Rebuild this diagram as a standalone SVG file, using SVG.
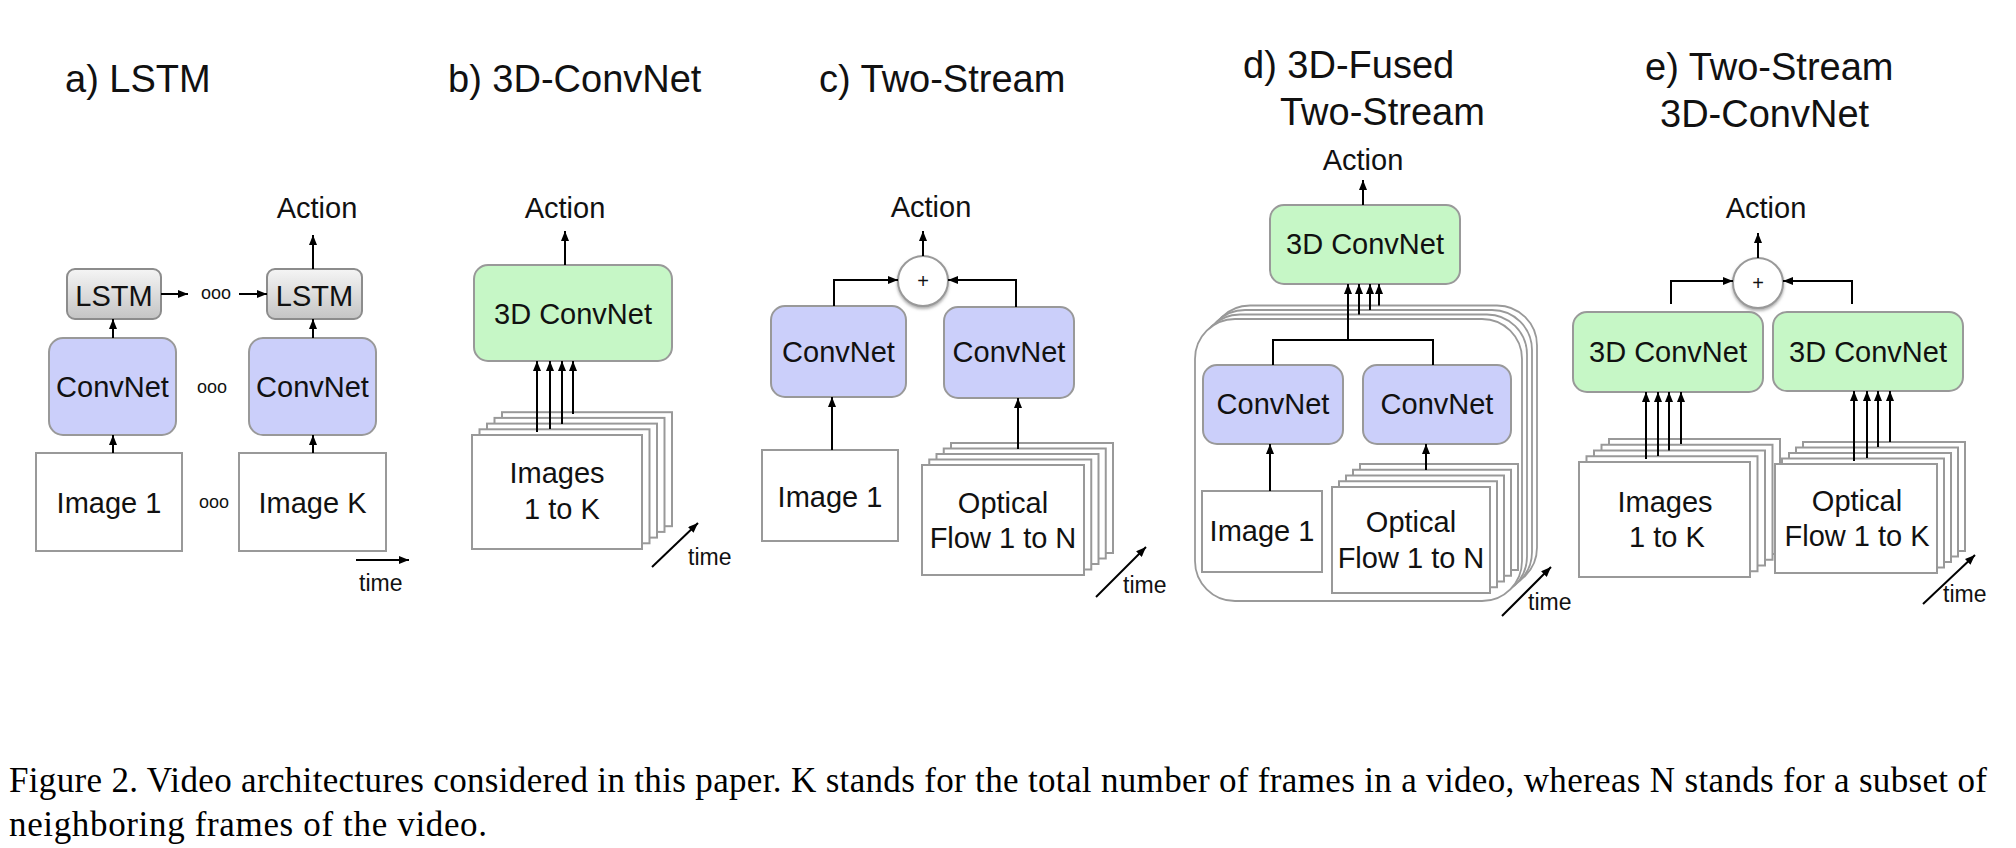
<svg xmlns="http://www.w3.org/2000/svg" width="2016" height="848" viewBox="0 0 2016 848">
<defs>
<linearGradient id="lstmGrad" x1="0" y1="0" x2="0" y2="1">
<stop offset="0" stop-color="#f5f5f5"/>
<stop offset="1" stop-color="#c4c4c4"/>
</linearGradient>
<filter id="shadow" x="-30%" y="-30%" width="160%" height="170%">
<feDropShadow dx="0" dy="2" stdDeviation="1.5" flood-color="#777" flood-opacity="0.6"/>
</filter>
<marker id="arr" markerUnits="userSpaceOnUse" markerWidth="10" markerHeight="8" refX="10" refY="4" orient="auto">
<path d="M0,0 L10,4 L0,8 z" fill="#000"/>
</marker>
</defs>
<style>
.t{font-family:"Liberation Sans",Arial,Helvetica,sans-serif;fill:#111;}
.title{font-size:38px;}
.lbl{font-size:29px;}
.tm{font-size:23px;}
.dots{font-size:18px;}
.plus{font-size:20px;}
.cap{font-family:"Liberation Serif","Times New Roman",serif;font-size:35px;fill:#000;}
.conv{fill:#cbcffa;stroke:#999;stroke-width:2;}
.green{fill:#c6f7c6;stroke:#999;stroke-width:2;}
.lstm{fill:url(#lstmGrad);stroke:#8c8c8c;stroke-width:2;}
.img{fill:#fff;stroke:#999;stroke-width:2;}
.cont{fill:#fff;stroke:#999;stroke-width:1.8;}
.circ{fill:#fff;stroke:#999;stroke-width:2;filter:url(#shadow);}
.ln{fill:none;stroke:#000;stroke-width:2;}
.ar{fill:none;stroke:#000;stroke-width:2;marker-end:url(#arr);}
</style>
<rect x="0" y="0" width="2016" height="848" fill="#fff"/>

<!-- Titles -->
<g id="titles">
<text class="t title" x="65" y="92">a) LSTM</text>
<text class="t title" x="448" y="92">b) 3D-ConvNet</text>
<text class="t title" x="819" y="92">c) Two-Stream</text>
<text class="t title" x="1243" y="78">d) 3D-Fused</text>
<text class="t title" x="1280" y="125">Two-Stream</text>
<text class="t title" x="1645" y="80">e) Two-Stream</text>
<text class="t title" x="1660" y="127">3D-ConvNet</text>
</g>

<!-- Panel a -->
<g id="a-action"><text class="t lbl" x="317" y="218" text-anchor="middle">Action</text></g>
<g id="a-lstm1"><rect class="lstm" x="67" y="269" width="94" height="50" rx="8"/><text class="t lbl" x="114" y="306" text-anchor="middle">LSTM</text></g>
<g id="a-lstm2"><rect class="lstm" x="267" y="269" width="95" height="50" rx="8"/><text class="t lbl" x="314.5" y="306" text-anchor="middle">LSTM</text></g>
<g id="a-conv1"><rect class="conv" x="49" y="338" width="127" height="97" rx="14"/><text class="t lbl" x="112.5" y="397" text-anchor="middle">ConvNet</text></g>
<g id="a-conv2"><rect class="conv" x="249" y="338" width="127" height="97" rx="14"/><text class="t lbl" x="312.5" y="397" text-anchor="middle">ConvNet</text></g>
<g id="a-img1"><rect class="img" x="36" y="453" width="146" height="98"/><text class="t lbl" x="109" y="513" text-anchor="middle">Image 1</text></g>
<g id="a-imgK"><rect class="img" x="239" y="453" width="147" height="98"/><text class="t lbl" x="312.5" y="513" text-anchor="middle">Image K</text></g>
<g id="a-dots">
<text class="t dots" x="216" y="299" text-anchor="middle">ooo</text>
<text class="t dots" x="212" y="393" text-anchor="middle">ooo</text>
<text class="t dots" x="214" y="508" text-anchor="middle">ooo</text>
</g>
<g id="a-time"><text class="t tm" x="359" y="591">time</text></g>

<!-- Panel b -->
<g id="b-action"><text class="t lbl" x="565" y="218" text-anchor="middle">Action</text></g>
<g id="b-3d"><rect class="green" x="474" y="265" width="198" height="96" rx="14"/><text class="t lbl" x="573" y="324" text-anchor="middle">3D ConvNet</text></g>
<g id="b-images">
<rect class="img" x="502" y="412.2" width="170" height="114"/>
<rect class="img" x="494.5" y="417.9" width="170" height="114"/>
<rect class="img" x="487" y="423.6" width="170" height="114"/>
<rect class="img" x="479.5" y="429.3" width="170" height="114"/>
<rect class="img" x="472" y="435" width="170" height="114"/>
<text class="t lbl" x="557" y="483" text-anchor="middle">Images</text>
<text class="t lbl" x="562" y="519" text-anchor="middle">1 to K</text>
</g>
<g id="b-time"><text class="t tm" x="688" y="565">time</text></g>

<!-- Panel c -->
<g id="c-action"><text class="t lbl" x="931" y="217" text-anchor="middle">Action</text></g>
<g id="c-sum"><circle class="circ" cx="923" cy="281" r="25"/><text class="t plus" x="923" y="288" text-anchor="middle">+</text></g>
<g id="c-conv1"><rect class="conv" x="771" y="306" width="135" height="91" rx="14"/><text class="t lbl" x="838.5" y="362" text-anchor="middle">ConvNet</text></g>
<g id="c-conv2"><rect class="conv" x="944" y="307" width="130" height="91" rx="14"/><text class="t lbl" x="1009" y="362" text-anchor="middle">ConvNet</text></g>
<g id="c-img1"><rect class="img" x="762" y="450" width="136" height="91"/><text class="t lbl" x="830" y="507" text-anchor="middle">Image 1</text></g>
<g id="c-flow">
<rect class="img" x="951" y="443" width="162" height="110"/>
<rect class="img" x="943.75" y="448.5" width="162" height="110"/>
<rect class="img" x="936.5" y="454" width="162" height="110"/>
<rect class="img" x="929.25" y="459.5" width="162" height="110"/>
<rect class="img" x="922" y="465" width="162" height="110"/>
<text class="t lbl" x="1003" y="513" text-anchor="middle">Optical</text>
<text class="t lbl" x="1003" y="548" text-anchor="middle">Flow 1 to N</text>
</g>
<g id="c-time"><text class="t tm" x="1123" y="593">time</text></g>

<!-- Panel d -->
<g id="d-action"><text class="t lbl" x="1363" y="170" text-anchor="middle">Action</text></g>
<g id="d-3d"><rect class="green" x="1270" y="205" width="190" height="79" rx="14"/><text class="t lbl" x="1365" y="254" text-anchor="middle">3D ConvNet</text></g>
<g id="d-container">
<rect class="cont" x="1210" y="305.5" width="327" height="282" rx="40"/>
<rect class="cont" x="1205" y="310" width="327" height="282" rx="40"/>
<rect class="cont" x="1200" y="314.5" width="327" height="282" rx="40"/>
<rect class="cont" x="1195" y="319" width="327" height="282" rx="40"/>
</g>
<g id="d-conv1"><rect class="conv" x="1203" y="365" width="140" height="79" rx="14"/><text class="t lbl" x="1273" y="414" text-anchor="middle">ConvNet</text></g>
<g id="d-conv2"><rect class="conv" x="1363" y="365" width="148" height="79" rx="14"/><text class="t lbl" x="1437" y="414" text-anchor="middle">ConvNet</text></g>
<g id="d-img1"><rect class="img" x="1202" y="491" width="120" height="81"/><text class="t lbl" x="1262" y="541" text-anchor="middle">Image 1</text></g>
<g id="d-flow">
<rect class="img" x="1360" y="464" width="158" height="106"/>
<rect class="img" x="1353" y="469.75" width="158" height="106"/>
<rect class="img" x="1346" y="475.5" width="158" height="106"/>
<rect class="img" x="1339" y="481.25" width="158" height="106"/>
<rect class="img" x="1332" y="487" width="158" height="106"/>
<text class="t lbl" x="1411" y="532" text-anchor="middle">Optical</text>
<text class="t lbl" x="1411" y="568" text-anchor="middle">Flow 1 to N</text>
</g>
<g id="d-time"><text class="t tm" x="1528" y="610">time</text></g>

<!-- Panel e -->
<g id="e-action"><text class="t lbl" x="1766" y="218" text-anchor="middle">Action</text></g>
<g id="e-sum"><circle class="circ" cx="1758" cy="283" r="25"/><text class="t plus" x="1758" y="290" text-anchor="middle">+</text></g>
<g id="e-3d1"><rect class="green" x="1573" y="312" width="190" height="80" rx="14"/><text class="t lbl" x="1668" y="362" text-anchor="middle">3D ConvNet</text></g>
<g id="e-3d2"><rect class="green" x="1773" y="312" width="190" height="79" rx="14"/><text class="t lbl" x="1868" y="362" text-anchor="middle">3D ConvNet</text></g>
<g id="e-images">
<rect class="img" x="1609" y="439" width="171" height="115"/>
<rect class="img" x="1601.5" y="444.75" width="171" height="115"/>
<rect class="img" x="1594" y="450.5" width="171" height="115"/>
<rect class="img" x="1586.5" y="456.25" width="171" height="115"/>
<rect class="img" x="1579" y="462" width="171" height="115"/>
<text class="t lbl" x="1665" y="512" text-anchor="middle">Images</text>
<text class="t lbl" x="1667" y="547" text-anchor="middle">1 to K</text>
</g>
<g id="e-flow">
<rect class="img" x="1803" y="442" width="162" height="109"/>
<rect class="img" x="1796" y="447.5" width="162" height="109"/>
<rect class="img" x="1789" y="453" width="162" height="109"/>
<rect class="img" x="1782" y="458.5" width="162" height="109"/>
<rect class="img" x="1775" y="464" width="162" height="109"/>
<text class="t lbl" x="1857" y="511" text-anchor="middle">Optical</text>
<text class="t lbl" x="1857" y="546" text-anchor="middle">Flow 1 to K</text>
</g>
<g id="e-time"><text class="t tm" x="1943" y="602">time</text></g>

<!-- Connectors -->
<g id="connectors">
<line class="ar" x1="113" y1="338" x2="113" y2="319"/>
<line class="ar" x1="113" y1="453" x2="113" y2="435"/>
<line class="ar" x1="313" y1="338" x2="313" y2="319"/>
<line class="ar" x1="313" y1="453" x2="313" y2="435"/>
<line class="ar" x1="161" y1="294" x2="188" y2="294"/>
<line class="ar" x1="239" y1="294" x2="267" y2="294"/>
<line class="ar" x1="313" y1="269" x2="313" y2="235"/>
<line class="ar" x1="356" y1="560" x2="409" y2="560"/>
<line class="ar" x1="565" y1="265" x2="565" y2="231"/>
<line class="ar" x1="537" y1="432" x2="537" y2="361"/>
<line class="ar" x1="550" y1="429" x2="550" y2="361"/>
<line class="ar" x1="562" y1="424" x2="562" y2="361"/>
<line class="ar" x1="573" y1="414" x2="573" y2="361"/>
<line class="ar" x1="652" y1="567" x2="698" y2="523"/>
<line class="ar" x1="923" y1="256" x2="923" y2="231"/>
<path class="ar" d="M834 306 V280 H898"/>
<path class="ar" d="M1016 307 V280 H948"/>
<line class="ar" x1="832" y1="450" x2="832" y2="397"/>
<line class="ar" x1="1018" y1="449" x2="1018" y2="398"/>
<line class="ar" x1="1096" y1="597" x2="1146" y2="547"/>
<line class="ar" x1="1363" y1="205" x2="1363" y2="180"/>
<path class="ln" d="M1273 365 V340 H1433 V365"/>
<line class="ar" x1="1348" y1="340" x2="1348" y2="284"/>
<line class="ar" x1="1359" y1="314.5" x2="1359" y2="284"/>
<line class="ar" x1="1370" y1="310" x2="1370" y2="284"/>
<line class="ar" x1="1379" y1="305.5" x2="1379" y2="284"/>
<line class="ar" x1="1270" y1="491" x2="1270" y2="444"/>
<line class="ar" x1="1426" y1="470" x2="1426" y2="444"/>
<line class="ar" x1="1502" y1="616" x2="1551" y2="567"/>
<line class="ar" x1="1758" y1="258" x2="1758" y2="233"/>
<path class="ar" d="M1671 304 V281 H1733"/>
<path class="ar" d="M1852 304 V281 H1783"/>
<line class="ar" x1="1646" y1="459" x2="1646" y2="392"/>
<line class="ar" x1="1658" y1="456" x2="1658" y2="392"/>
<line class="ar" x1="1669" y1="450.5" x2="1669" y2="392"/>
<line class="ar" x1="1681" y1="444" x2="1681" y2="392"/>
<line class="ar" x1="1854" y1="461" x2="1854" y2="391"/>
<line class="ar" x1="1867" y1="458" x2="1867" y2="391"/>
<line class="ar" x1="1878" y1="447" x2="1878" y2="391"/>
<line class="ar" x1="1890" y1="442" x2="1890" y2="391"/>
<line class="ar" x1="1923" y1="604" x2="1975" y2="555"/>
</g>

<!-- Caption -->
<g id="caption">
<text class="cap" x="9" y="792" textLength="1978" lengthAdjust="spacing">Figure 2. Video architectures considered in this paper. K stands for the total number of frames in a video, whereas N stands for a subset of</text>
<text class="cap" x="9" y="836" textLength="478" lengthAdjust="spacing">neighboring frames of the video.</text>
</g>
</svg>
